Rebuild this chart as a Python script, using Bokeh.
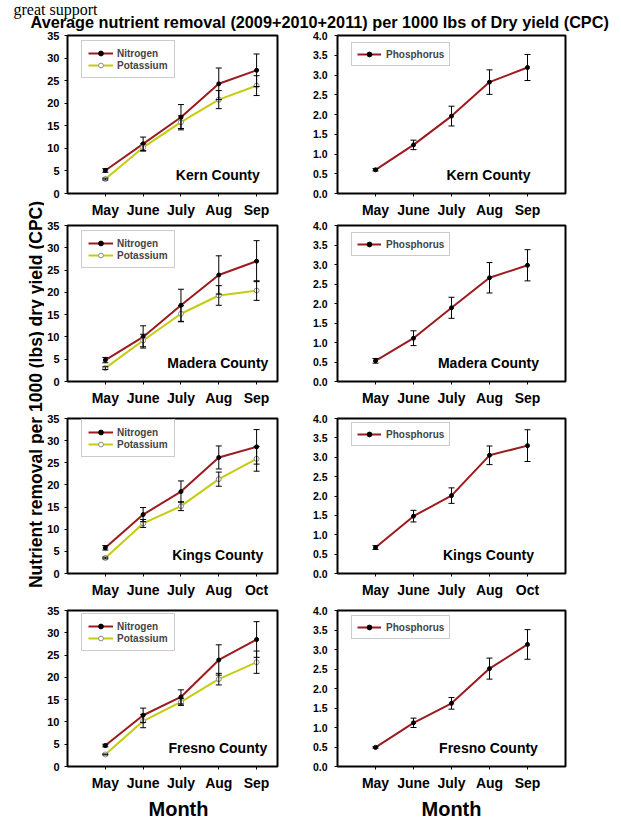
from bokeh.plotting import figure
from bokeh.models import (ColumnDataSource, Whisker, TeeHead, Legend, LegendItem, Label,
                          FixedTicker, Range1d, NumeralTickFormatter)
from bokeh.layouts import column, row
from bokeh.embed import file_html
from bokeh.resources import INLINE
from bokeh.core.properties import value
import math

FONT = "Liberation Sans"
N_COLOR = "#9B1B1E"
K_COLOR = "#C5CC0E"

# ---------------- data ----------------
month_idx = [0, 1, 2, 3, 4]
months_sep = ["May", "June", "July", "Aug", "Sep"]
months_oct = ["May", "June", "July", "Aug", "Oct"]

kern_n = [5.1, 11.0, 16.9, 24.3, 27.3]
kern_n_err = [0.4, 1.5, 2.8, 3.5, 3.6]
kern_k = [3.2, 10.2, 15.8, 20.8, 23.9]
kern_k_err = [0.2, 0.8, 1.4, 2.0, 2.2]
kern_p = [0.60, 1.23, 1.96, 2.82, 3.19]
kern_p_err = [0.03, 0.12, 0.25, 0.31, 0.33]

madera_n = [4.8, 10.0, 17.1, 23.9, 27.0]
madera_n_err = [0.6, 2.5, 3.6, 4.3, 4.6]
madera_k = [3.0, 9.2, 15.2, 19.3, 20.4]
madera_k_err = [0.3, 1.4, 1.8, 2.2, 2.2]
madera_p = [0.53, 1.11, 1.89, 2.66, 2.98]
madera_p_err = [0.06, 0.19, 0.27, 0.39, 0.40]

kings_n = [5.8, 13.3, 18.5, 26.2, 28.6]
kings_n_err = [0.5, 1.6, 2.4, 2.6, 3.9]
kings_k = [3.5, 11.3, 15.2, 21.3, 25.9]
kings_k_err = [0.2, 0.9, 1.0, 1.6, 2.8]
kings_p = [0.67, 1.48, 2.01, 3.05, 3.30]
kings_p_err = [0.05, 0.15, 0.20, 0.24, 0.41]

fresno_n = [4.7, 11.5, 15.6, 23.9, 28.5]
fresno_n_err = [0.3, 1.6, 1.6, 3.4, 4.0]
fresno_k = [2.7, 10.2, 14.5, 19.6, 23.4]
fresno_k_err = [0.1, 1.5, 0.8, 1.3, 2.5]
fresno_p = [0.49, 1.12, 1.62, 2.51, 3.13]
fresno_p_err = [0.02, 0.12, 0.15, 0.27, 0.38]

left_ticks = [0, 5, 10, 15, 20, 25, 30, 35]
right_ticks = [0.0, 0.5, 1.0, 1.5, 2.0, 2.5, 3.0, 3.5, 4.0]

title_text = "Average nutrient removal (2009+2010+2011) per 1000 lbs of Dry yield (CPC)"
ylabel_text = "Nutrient removal per 1000 (lbs) dry yield (CPC)"
xlabel_text = "Month"

PX_PER_MONTH = 38.0


def series(p, vals, errs, color, filled):
    src = ColumnDataSource(dict(x=month_idx, y=vals,
                                upper=[v + e for v, e in zip(vals, errs)],
                                lower=[v - e for v, e in zip(vals, errs)]))
    ln = p.line("x", "y", source=src, line_color=color, line_width=2)
    w = Whisker(base="x", upper="upper", lower="lower", source=src,
                line_color="black", line_width=1, level="glyph",
                upper_head=TeeHead(size=6, line_color="black", line_width=1),
                lower_head=TeeHead(size=6, line_color="black", line_width=1))
    p.add_layout(w)
    if filled:
        mk = p.scatter("x", "y", source=src, size=4, fill_color="black", line_color="black")
    else:
        mk = p.scatter("x", "y", source=src, size=5, fill_color="white", line_color="#8a8a8a",
                       line_width=1)
    return [ln, mk]


def panel(side, height, bt, frame_h, labels, county, data):
    if side == "L":
        width, bl, frame_w = 256, 22, 211
        y_end, ticks, fmt, tfs, stand = 35, left_ticks, "0", "11px", 5
    else:
        width, bl, frame_w = 310, 37, 228
        y_end, ticks, fmt, tfs, stand = 4.0, right_ticks, "0.0", "10.5px", 7
    br = width - bl - frame_w
    bb = height - bt - frame_h
    x_end = -1 + frame_w / PX_PER_MONTH
    p = figure(width=width, height=height, output_backend="svg", toolbar_location=None,
               x_range=Range1d(-1, x_end), y_range=Range1d(0, y_end),
               min_border_left=bl, min_border_right=br, min_border_top=bt,
               min_border_bottom=bb, border_fill_color="white",
               background_fill_color="white")
    p.xgrid.visible = False
    p.ygrid.visible = False
    p.outline_line_color = "black"
    p.outline_line_width = 2
    p.outline_line_alpha = 1.0
    for ax in (p.xaxis[0], p.yaxis[0]):
        ax.axis_line_color = None
        ax.major_tick_line_color = "black"
        ax.major_tick_line_width = 1
        ax.major_tick_in = 0
        ax.major_tick_out = 3
        ax.minor_tick_line_color = None
        ax.major_label_text_font = FONT
        ax.major_label_text_font_style = "bold"
        ax.major_label_text_color = "black"
    p.xaxis.ticker = FixedTicker(ticks=month_idx)
    p.xaxis.major_label_overrides = {i: m for i, m in zip(month_idx, labels)}
    p.xaxis.major_label_text_font_size = "14px"
    p.xaxis.major_label_standoff = 5
    p.yaxis.ticker = FixedTicker(ticks=ticks)
    p.yaxis.formatter = NumeralTickFormatter(format=fmt)
    p.yaxis.major_label_text_font_size = tfs
    p.yaxis.major_label_standoff = stand

    if side == "L":
        n_vals, n_err, k_vals, k_err = data
        rn = series(p, n_vals, n_err, N_COLOR, True)
        rk = series(p, k_vals, k_err, K_COLOR, False)
        items = [LegendItem(label="Nitrogen", renderers=rn),
                 LegendItem(label="Potassium", renderers=rk)]
        pad, lh, gw, sto = 6, 36, 25, 4
        loc = (14, frame_h - 7 - lh)
    else:
        p_vals, p_err = data
        rp = series(p, p_vals, p_err, N_COLOR, True)
        items = [LegendItem(label="Phosphorus", renderers=rp)]
        pad, lh, gw, sto = 5, 22, 24, 5
        loc = (14, frame_h - 9 - lh)
    lg = Legend(items=items, location=loc, label_text_font=FONT, label_text_font_size="10px",
                label_text_font_style="bold", glyph_width=gw, glyph_height=12,
                label_height=12, spacing=0, padding=pad, margin=0, label_standoff=sto,
                border_line_color="#9a9a9a", border_line_width=1,
                background_fill_color="white", background_fill_alpha=1.0)
    p.add_layout(lg)

    p.add_layout(Label(x=-1 + 151 / PX_PER_MONTH, y=18.5 * y_end / frame_h, text=county,
                       text_font=FONT, text_font_size="14px", text_font_style="bold",
                       text_align="center", text_baseline="middle", text_color="black"))
    return p


def text_strip(width, height):
    f = figure(width=width, height=height, output_backend="svg", toolbar_location=None,
               x_range=Range1d(0, width), y_range=Range1d(height, 0),
               min_border=0, border_fill_color="white", outline_line_color=None)
    f.axis.visible = False
    f.grid.visible = False
    return f


# header with main title
header = text_strip(612, 31)
header.text(x=[13], y=[0], text=["great support"], text_font=value("Liberation Serif"),
            text_font_size="16px", text_align="left", text_baseline="top",
            text_color="black")
header.text(x=[30], y=[21], text=[title_text], text_font=value(FONT),
            text_font_size="16.25px", text_font_style="bold", text_align="left",
            text_baseline="middle", text_color="black")

# rotated y label
ylab = text_strip(44, 766)
ylab.text(x=[35], y=[363], text=[ylabel_text], angle=math.pi / 2, text_font=value(FONT),
          text_font_size="17.5px", text_font_style="bold", text_align="center",
          text_baseline="middle", text_color="black")

# bottom "Month" titles, centred under the two panel columns
footer = text_strip(612, 23)
footer.text(x=[178, 451], y=[11.5, 11.5], text=[xlabel_text, xlabel_text],
            text_font=value(FONT), text_font_size="20px", text_font_style="bold",
            text_align="center", text_baseline="middle", text_color="black")

r1 = row(panel("L", 190, 4, 158, months_sep, "Kern County", (kern_n, kern_n_err, kern_k, kern_k_err)),
         panel("R", 190, 4, 158, months_sep, "Kern County", (kern_p, kern_p_err)))
r2 = row(panel("L", 188, 4, 156, months_sep, "Madera County", (madera_n, madera_n_err, madera_k, madera_k_err)),
         panel("R", 188, 4, 156, months_sep, "Madera County", (madera_p, madera_p_err)))
r3 = row(panel("L", 195, 5, 159, months_oct, "Kings County", (kings_n, kings_n_err, kings_k, kings_k_err)),
         panel("R", 195, 9, 158, months_oct, "Kings County", (kings_p, kings_p_err)))
r4 = row(panel("L", 193, 4, 158, months_sep, "Fresno County", (fresno_n, fresno_n_err, fresno_k, fresno_k_err)),
         panel("R", 193, 6, 158, months_sep, "Fresno County", (fresno_p, fresno_p_err)))

layout = column(header, row(ylab, column(r1, r2, r3, r4)), footer)

open("out.html", "w").write(file_html(layout, INLINE))
